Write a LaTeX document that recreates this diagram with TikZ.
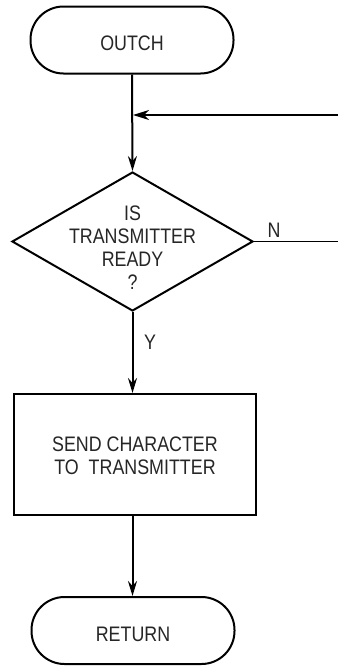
\documentclass[tikz,border=0pt]{standalone}
\usepackage{fontspec}
\setmainfont{Liberation Sans}[FakeStretch=0.85]
\usetikzlibrary{arrows.meta,shapes.geometric}
\begin{document}
\begin{tikzpicture}[x=1pt,y=-1pt,
  txt/.style={font=\fontsize{21}{23}\selectfont, align=center, text=black!85, inner sep=0pt},
  term/.style={draw, line width=2pt, rounded corners=33pt, minimum width=203pt, minimum height=67pt, inner sep=0pt},
  decn/.style={draw, diamond, line width=2pt, minimum width=241pt, minimum height=139pt, inner sep=0pt},
  proc/.style={draw, line width=2pt, minimum width=242pt, minimum height=121pt, inner sep=0pt},
  flow/.style={line width=2pt, -{Stealth[length=15pt, width=9pt, inset=5pt]}},
  thinflow/.style={line width=1.2pt, -{Stealth[length=16pt, width=10pt, inset=5pt]}},
  thinline/.style={line width=1.2pt}
]
\useasboundingbox (0,0) rectangle (338,667);
\node[term] (start) at (132,40) {};
\node[txt] (startt) at (132,43.5) {OUTCH};
\node[decn] (dec) at (132.5,241.5) {};
\node[txt] (dect) at (132.5,248) {IS\\TRANSMITTER\\READY\\?};
\node[proc] (send) at (135,454.5) {};
\node[txt] (sendt) at (135,456) {SEND CHARACTER\\TO\ \ TRANSMITTER};
\node[term] (ret) at (133,630.5) {};
\node[txt] (rett) at (133,634.5) {RETURN};
\coordinate (fbin) at (338,115);
\coordinate (fbj) at (133,115);
\coordinate (nout) at (338,241.5);
\node[txt] (nlab) at (274,230) {N};
\node[txt] (ylab) at (150,342) {Y};
\draw[flow] (start.south) -- (dec.north);
\draw[thinflow] (fbin) -- (fbj);
\draw[thinline] (dec.east) -- (nout);
\draw[flow] (dec.south) -- (dec.south |- send.north);
\draw[flow] (send.south -| dec.south) -- (ret.north -| dec.south);
\end{tikzpicture}
\end{document}
